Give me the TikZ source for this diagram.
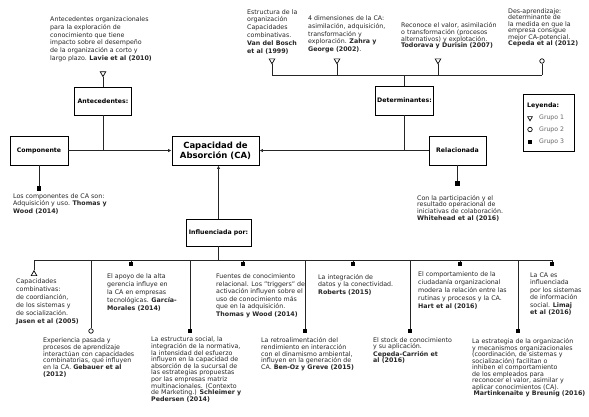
\documentclass[tikz,border=0pt]{standalone}
\usepackage{fontspec}
\setmainfont{DejaVu Sans}
\usetikzlibrary{arrows.meta,shapes.geometric}
\tikzset{
  txt/.style={anchor=north west,inner sep=0pt,align=left,text=black!85,font=\fontsize{6.3}{#1}\selectfont},
  txt/.default=6.6,
  boxnode/.style={draw=black,line width=0.9pt,fill=white,inner sep=1pt,align=center,font=\fontsize{6.2}{7.5}\selectfont\bfseries},
  conn/.style={draw=black!85,line width=0.85pt},
  arr/.style={conn,-{Latex[length=3.5pt,width=3.5pt]}},
  tridown/.style={regular polygon,regular polygon sides=3,shape border rotate=180,draw=black,line width=0.7pt,fill=white,inner sep=0pt,minimum size=6.5pt},
  triup/.style={regular polygon,regular polygon sides=3,draw=black,line width=0.7pt,fill=white,inner sep=0pt,minimum size=6.5pt},
  circ/.style={circle,draw=black,line width=0.7pt,fill=white,inner sep=0pt,minimum size=4.5pt},
  sq/.style={rectangle,fill=black,inner sep=0pt,minimum size=4.5pt},
  legtxt/.style={anchor=west,inner sep=0pt,text=black!60,font=\fontsize{6.2}{7}\selectfont},
}
\begin{document}
\begin{tikzpicture}[x=1pt,y=-1pt]
\fill[white] (0,0) rectangle (589,416);
\useasboundingbox (0,0) rectangle (589,416);

% boxes
\node[boxnode,minimum width=57pt,minimum height=28pt] (ant) at (103,101) {Antecedentes:};
\node[boxnode,minimum width=58pt,minimum height=29pt] (comp) at (39,150.5) {Componente};
\node[boxnode,minimum width=87pt,minimum height=29pt,font=\fontsize{8.5}{10}\selectfont\bfseries] (CA) at (215.5,150.5) {Capacidad de\\Absorción (CA)};
\node[boxnode,minimum width=58pt,minimum height=29pt] (det) at (404.5,100.5) {Determinantes:};
\node[boxnode,minimum width=57pt,minimum height=29pt] (rel) at (457.5,150.5) {Relacionada};
\node[boxnode,minimum width=65pt,minimum height=27pt] (inf) at (218.5,232.5) {Influenciada por:};

% legend
\node[draw=black,line width=0.8pt,minimum width=51pt,minimum height=57pt,inner sep=0pt] (leg) at (548.5,122.5) {};
\node[anchor=west,inner sep=0pt,font=\fontsize{6.2}{7}\selectfont\bfseries] (legT) at (527,106) {Leyenda:};
\node[tridown,minimum size=5.5pt] (lg1) at (530,118) {};
\node[legtxt] (lg1t) at (539,118) {Grupo 1};
\node[circ] (lg2) at (530,129.5) {};
\node[legtxt] (lg2t) at (539,129.5) {Grupo 2};
\node[sq] (lg3) at (530,142) {};
\node[legtxt] (lg3t) at (539,142) {Grupo 3};

% markers
\node[tridown] (mAnt) at (103,73.3) {};
\node[tridown] (mT1) at (272,60.5) {};
\node[tridown] (mT2) at (337,60.5) {};
\node[tridown] (mT3) at (438,60.5) {};
\node[circ] (mT4) at (542,61) {};
\node[sq] (mC) at (39,188.5) {};
\node[sq] (mR) at (457.5,183.5) {};
\node[triup] (b1) at (34,274) {};
\node[circ] (b2) at (91,331) {};
\node[sq] (b3) at (131,264) {};
\node[sq] (b4) at (190,331) {};
\node[sq] (b5) at (243,264) {};
\node[sq] (b6) at (305,331) {};
\node[sq] (b7) at (353,264) {};
\node[sq] (b8) at (410,331) {};
\node[sq] (b9) at (460,264) {};
\node[sq] (b10) at (518,331) {};
\node[sq] (b11) at (552,264) {};

\coordinate (tbus) at (0,75);
\coordinate (bbus) at (0,260);

% connectors
\draw[conn] (mAnt) -- (ant);
\draw[conn] (ant.south) -- (ant.south |- CA.west);
\draw[arr] (comp) -- (CA);
\draw[arr] (rel) -- (CA);
\draw[conn] (det.south) -- (det.south |- CA.east);
\draw[conn] (det.north) -- (det.north |- tbus);
\draw[conn] (mT1 |- tbus) -- (mT4 |- tbus);
\draw[conn] (mT1) -- (mT1 |- tbus);
\draw[conn] (mT2) -- (mT2 |- tbus);
\draw[conn] (mT3) -- (mT3 |- tbus);
\draw[conn] (mT4) -- (mT4 |- tbus);
\draw[conn] (comp.south) -- (mC);
\draw[conn] (rel.south) -- (mR);
\draw[arr] (inf.north) -- (inf.north |- CA.south);
\draw[conn] (inf.south) -- (inf.south |- bbus);
\draw[conn] (b1 |- bbus) -- (b11 |- bbus);
\foreach \m in {b1,b2,b3,b4,b5,b6,b7,b8,b9,b10,b11} {\draw[conn] (\m) -- (\m |- bbus);}

% texts top
\node[txt=7.8] (tLavie) at (50,16.5) {Antecedentes organizacionales\\para la exploración de\\conocimiento que tiene\\impacto sobre el desempeño\\de la organización a corto y\\largo plazo. \textbf{Lavie et al (2010)}};
\node[txt=7.8] (tVdB) at (247,9.2) {Estructura de la\\organización\\Capacidades\\combinativas.\\\textbf{Van del Bosch}\\\textbf{et al (1999)}};
\node[txt=7.7] (tZahra) at (308,15.8) {4 dimensiones de la CA:\\asimilación, adquisición,\\transformación y\\exploración. \textbf{Zahra y}\\\textbf{George (2002)}.};
\node[txt=6.7] (tTodo) at (401,22.5) {Reconoce el valor, asimilación\\o transformación (procesos\\alternativos) y explotación.\\\textbf{Todorava y Durisin (2007)}};
\node[txt=6.4] (tCep) at (508,8.5) {Des-aprendizaje:\\determinante de\\la medida en que la\\empresa consigue\\mejor CA-potencial.\\\textbf{Cepeda et al (2012)}};

% texts middle
\node[txt=7.3] (tComp) at (13,193.5) {Los componentes de CA son:\\Adquisición y uso. \textbf{Thomas y}\\\textbf{Wood (2014)}};
\node[txt=6.9] (tRel) at (417,194.8) {Con la participación y el\\resultado operacional de\\iniciativas de colaboración.\\\textbf{Whitehead et al (2016)}};

% texts bottom row 1
\node[txt=8] (tJasen) at (16,279) {Capacidades\\combinativas:\\de coordianción,\\de los sistemas y\\de socialización.\\\textbf{Jasen et al (2005)}};
\node[txt=8] (tGarcia) at (107,274) {El apoyo de la alta\\gerencia influye en\\la CA en empresas\\tecnológicas. \textbf{García-}\\\textbf{Morales (2014)}};
\node[txt=7.6] (tThomas) at (216,273.5) {Fuentes de conocimiento\\relacional. Los "triggers" de\\activación influyen sobre el\\uso de conocimiento más\\que en la adquisición.\\\textbf{Thomas y Wood (2014)}};
\node[txt=7.5] (tRob) at (318,274) {La integración de\\datos y la conectividad.\\\textbf{Roberts (2015)}};
\node[txt=8.1] (tHart) at (418,271.5) {El comportamiento de la\\ciudadanía organizacional\\modera la relación entre las\\rutinas y procesos y la CA.\\\textbf{Hart et al (2016)}};
\node[txt=7.5] (tLimaj) at (530,272.5) {La CA es\\influenciada\\por los sistemas\\de información\\social. \textbf{Limaj}\\\textbf{et al (2016)}};

% texts bottom row 2
\node[txt=6.8] (tGeb) at (43,337.5) {Experiencia pasada y\\procesos de aprendizaje\\interactúan con capacidades\\combinatorias, que influyen\\en la CA. \textbf{Gebauer et al}\\\textbf{(2012)}};
\node[txt=6.6] (tSch) at (151,337) {La estructura social, la\\integración de la normativa,\\la intensidad del esfuerzo\\influyen en la capacidad de\\absorción de la sucursal de\\las estrategias propuestas\\por las empresas matriz\\multinacionales. (Contexto\\de Marketing.) \textbf{Schleimer y}\\\textbf{Pedersen (2014)}};
\node[txt=6.7] (tBen) at (261,337.5) {La retroalimentación del\\rendimiento en interacción\\con el dinamismo ambiental,\\influyen en la generación de\\CA. \textbf{Ben-Oz y Greve (2015)}};
\node[txt=6.3] (tCC) at (373,337.5) {El stock de conocimiento\\y su aplicación.\\\textbf{Cepeda-Carrión et}\\\textbf{al (2016)}};
\node[txt=6.5] (tMart) at (472,338.5) {La estrategia de la organización\\y mecanismos organizacionales\\(coordinación, de sistemas y\\socialización) facilitan o\\inhiben el comportamiento\\de los empleados para\\reconocer el valor, asimilar y\\aplicar conocimientos (CA).\\\hspace*{1.5pt}\textbf{Martinkenaite y Breunig (2016)}};
\end{tikzpicture}
\end{document}
